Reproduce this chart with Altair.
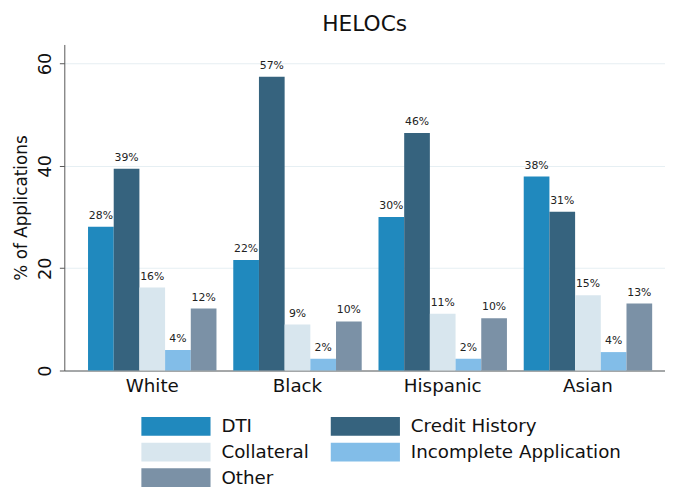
import altair as alt
import pandas as pd

groups = ["White", "Black", "Hispanic", "Asian"]
reasons = ["DTI", "Credit History", "Collateral", "Incomplete Application", "Other"]
colors = ["#2089be", "#36637e", "#d8e6ee", "#82bde8", "#7b91a6"]

dti = [28.1, 21.6, 30.0, 37.9]
credit_history = [39.4, 57.4, 46.4, 31.0]
collateral = [16.2, 9.0, 11.1, 14.7]
incomplete = [4.0, 2.3, 2.3, 3.6]
other = [12.1, 9.6, 10.2, 13.1]

series = [dti, credit_history, collateral, incomplete, other]
rows = []
for r, vals in zip(reasons, series):
    for g, v in zip(groups, vals):
        rows.append({"group": g, "reason": r, "value": v, "label": f"{round(v)}%"})
df = pd.DataFrame(rows)

FONT = "DejaVu Sans"

base = alt.Chart(df).encode(
    x=alt.X(
        "group:N",
        sort=groups,
        scale=alt.Scale(paddingInner=0.1156, paddingOuter=0.1258, align=0.649),
        axis=alt.Axis(
            title=None, labelAngle=0, labelFontSize=18.5, labelFont=FONT,
            labelColor="#111", ticks=False, domainColor="#555", labelPadding=6,
        ),
    ),
    xOffset=alt.XOffset("reason:N", sort=reasons, scale=alt.Scale(paddingInner=0, paddingOuter=0)),
    y=alt.Y(
        "value:Q",
        scale=alt.Scale(domain=[0, 63.7], nice=False),
        axis=alt.Axis(
            values=[0, 20, 40, 60], title="% of Applications", titleFont=FONT,
            titleFontSize=17, titleFontWeight="normal", titleColor="#111",
            titlePadding=6, labelFont=FONT, labelFontSize=18, labelColor="#111",
            labelAngle=270, labelAlign="center", labelBaseline="bottom",
            labelPadding=5, tickSize=5, tickColor="#555", domainColor="#555",
            grid=True, gridColor="#e6eff3", gridWidth=1,
        ),
    ),
)

bars = base.mark_bar().encode(
    color=alt.Color(
        "reason:N",
        sort=reasons,
        scale=alt.Scale(domain=reasons, range=colors),
        legend=alt.Legend(
            title=None, orient="none", legendX=103.5, legendY=377, columns=2,
            direction="horizontal",
            symbolType="M-3.684,-1H3.684V1H-3.684Z", symbolSize=361,
            symbolStrokeWidth=0, symbolOpacity=1, labelFont=FONT, labelFontSize=18.5,
            labelColor="#111", labelOffset=36.5, columnPadding=20.7, rowPadding=7,
            padding=0, labelLimit=400,
        ),
    )
)

text = base.mark_text(baseline="bottom", dy=-6, fontSize=11, font=FONT, color="#222").encode(
    text="label:N"
)

chart = (
    alt.layer(bars, text)
    .properties(
        width=608,
        height=330,
        title=alt.TitleParams("HELOCs", fontSize=22, fontWeight="normal", font=FONT,
                              color="#111", anchor="middle", offset=9),
        autosize=alt.AutoSizeParams(type="none"),
        padding={"left": 57, "top": 34, "right": 0, "bottom": 117},
    )
    .configure_view(stroke=None)
)

chart.save("out.html", embed_options={"renderer": "svg", "actions": False})
